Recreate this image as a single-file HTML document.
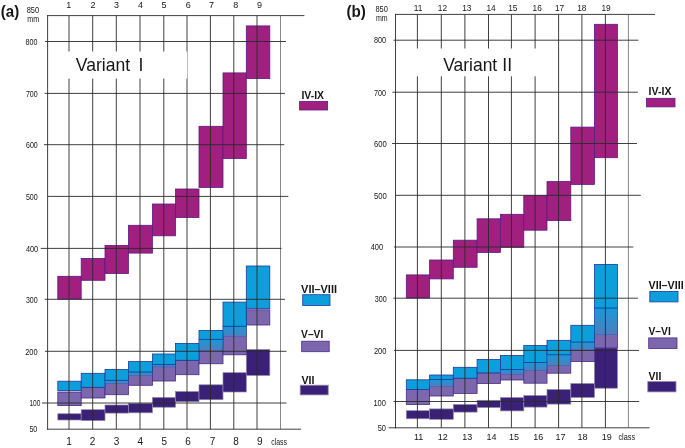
<!DOCTYPE html>
<html><head><meta charset="utf-8"><title>Variants</title>
<style>
html,body{margin:0;padding:0;background:#fff;}
svg{display:block;font-family:"Liberation Sans",sans-serif;fill:#1a1a1a;}
svg text{fill:#161616;}
</style></head><body>
<svg width="685" height="448" viewBox="0 0 685 448">
<defs><linearGradient id="bl" x1="0" y1="0" x2="0" y2="1"><stop offset="0" stop-color="#0d9fdb" stop-opacity="0.9"/><stop offset="1" stop-color="#0d9fdb" stop-opacity="0.4"/></linearGradient></defs>
<rect width="685" height="448" fill="#fff"/>
<rect x="57.80" y="276.30" width="23.40" height="22.80" fill="#a1207f" stroke="#5b1b86" stroke-width="0.8"/>
<rect x="81.20" y="258.40" width="23.80" height="21.90" fill="#a1207f" stroke="#5b1b86" stroke-width="0.8"/>
<rect x="105.00" y="245.40" width="23.40" height="28.10" fill="#a1207f" stroke="#5b1b86" stroke-width="0.8"/>
<rect x="128.40" y="225.30" width="24.00" height="27.80" fill="#a1207f" stroke="#5b1b86" stroke-width="0.8"/>
<rect x="152.40" y="204.00" width="23.10" height="31.80" fill="#a1207f" stroke="#5b1b86" stroke-width="0.8"/>
<rect x="175.50" y="189.00" width="23.50" height="28.50" fill="#a1207f" stroke="#5b1b86" stroke-width="0.8"/>
<rect x="199.00" y="126.30" width="24.00" height="61.10" fill="#a1207f" stroke="#5b1b86" stroke-width="0.8"/>
<rect x="223.00" y="72.90" width="23.30" height="85.60" fill="#a1207f" stroke="#5b1b86" stroke-width="0.8"/>
<rect x="246.30" y="25.90" width="23.50" height="52.70" fill="#a1207f" stroke="#5b1b86" stroke-width="0.8"/>
<rect x="57.80" y="413.75" width="23.40" height="6.25" fill="#3a2077" stroke="#8f88aa" stroke-width="0.7"/>
<rect x="81.20" y="409.70" width="23.80" height="10.90" fill="#3a2077" stroke="#8f88aa" stroke-width="0.7"/>
<rect x="105.00" y="405.00" width="23.40" height="8.10" fill="#3a2077" stroke="#8f88aa" stroke-width="0.7"/>
<rect x="128.40" y="403.50" width="24.00" height="9.30" fill="#3a2077" stroke="#8f88aa" stroke-width="0.7"/>
<rect x="152.40" y="397.50" width="23.10" height="9.70" fill="#3a2077" stroke="#8f88aa" stroke-width="0.7"/>
<rect x="175.50" y="391.60" width="23.50" height="10.10" fill="#3a2077" stroke="#8f88aa" stroke-width="0.7"/>
<rect x="199.00" y="384.80" width="24.00" height="14.90" fill="#3a2077" stroke="#8f88aa" stroke-width="0.7"/>
<rect x="223.00" y="372.70" width="23.30" height="19.30" fill="#3a2077" stroke="#8f88aa" stroke-width="0.7"/>
<rect x="246.30" y="349.50" width="23.50" height="25.90" fill="#3a2077" stroke="#8f88aa" stroke-width="0.7"/>
<rect x="57.80" y="392.00" width="23.40" height="13.60" fill="#7c67ad" stroke="#4a2a8c" stroke-width="0.8"/>
<rect x="81.20" y="387.30" width="23.80" height="10.70" fill="#7c67ad" stroke="#4a2a8c" stroke-width="0.8"/>
<rect x="105.00" y="380.30" width="23.40" height="14.40" fill="#7c67ad" stroke="#4a2a8c" stroke-width="0.8"/>
<rect x="128.40" y="372.00" width="24.00" height="13.30" fill="#7c67ad" stroke="#4a2a8c" stroke-width="0.8"/>
<rect x="152.40" y="364.50" width="23.10" height="16.50" fill="#7c67ad" stroke="#4a2a8c" stroke-width="0.8"/>
<rect x="175.50" y="360.30" width="23.50" height="14.40" fill="#7c67ad" stroke="#4a2a8c" stroke-width="0.8"/>
<rect x="199.00" y="339.30" width="24.00" height="24.45" fill="#7c67ad" stroke="#4a2a8c" stroke-width="0.8"/>
<rect x="223.00" y="326.25" width="23.30" height="28.55" fill="#7c67ad" stroke="#4a2a8c" stroke-width="0.8"/>
<rect x="246.30" y="309.80" width="23.50" height="15.20" fill="#7c67ad" stroke="#4a2a8c" stroke-width="0.8"/>
<rect x="57.80" y="381.20" width="23.40" height="9.40" fill="#0d9fdb" stroke="#1f3a9c" stroke-width="0.8"/>
<rect x="81.20" y="373.30" width="23.80" height="14.00" fill="#0d9fdb" stroke="#1f3a9c" stroke-width="0.8"/>
<rect x="105.00" y="380.30" width="23.40" height="3.45" fill="url(#bl)" stroke="#1f3a9c" stroke-width="0.4" stroke-opacity="0.6"/>
<rect x="105.00" y="369.40" width="23.40" height="10.90" fill="#0d9fdb" stroke="#1f3a9c" stroke-width="0.8"/>
<rect x="128.40" y="372.00" width="24.00" height="3.60" fill="url(#bl)" stroke="#1f3a9c" stroke-width="0.4" stroke-opacity="0.6"/>
<rect x="128.40" y="361.60" width="24.00" height="10.40" fill="#0d9fdb" stroke="#1f3a9c" stroke-width="0.8"/>
<rect x="152.40" y="364.50" width="23.10" height="2.40" fill="url(#bl)" stroke="#1f3a9c" stroke-width="0.4" stroke-opacity="0.6"/>
<rect x="152.40" y="354.00" width="23.10" height="10.50" fill="#0d9fdb" stroke="#1f3a9c" stroke-width="0.8"/>
<rect x="175.50" y="343.40" width="23.50" height="16.90" fill="#0d9fdb" stroke="#1f3a9c" stroke-width="0.8"/>
<rect x="199.00" y="339.30" width="24.00" height="11.10" fill="url(#bl)" stroke="#1f3a9c" stroke-width="0.4" stroke-opacity="0.6"/>
<rect x="199.00" y="330.40" width="24.00" height="8.90" fill="#0d9fdb" stroke="#1f3a9c" stroke-width="0.8"/>
<rect x="223.00" y="326.25" width="23.30" height="10.15" fill="url(#bl)" stroke="#1f3a9c" stroke-width="0.4" stroke-opacity="0.6"/>
<rect x="223.00" y="302.10" width="23.30" height="24.15" fill="#0d9fdb" stroke="#1f3a9c" stroke-width="0.8"/>
<rect x="246.30" y="266.00" width="23.50" height="42.60" fill="#0d9fdb" stroke="#1f3a9c" stroke-width="0.8"/>
<line x1="69.00" y1="15.6" x2="69.00" y2="429.2" stroke="#2a2a2a" stroke-width="0.9"/>
<line x1="92.70" y1="15.6" x2="92.70" y2="429.2" stroke="#2a2a2a" stroke-width="0.9"/>
<line x1="116.30" y1="15.6" x2="116.30" y2="429.2" stroke="#2a2a2a" stroke-width="0.9"/>
<line x1="140.00" y1="15.6" x2="140.00" y2="429.2" stroke="#2a2a2a" stroke-width="0.9"/>
<line x1="163.80" y1="15.6" x2="163.80" y2="429.2" stroke="#2a2a2a" stroke-width="0.9"/>
<line x1="187.00" y1="15.6" x2="187.00" y2="429.2" stroke="#2a2a2a" stroke-width="0.9"/>
<line x1="210.40" y1="15.6" x2="210.40" y2="429.2" stroke="#2a2a2a" stroke-width="0.9"/>
<line x1="233.80" y1="15.6" x2="233.80" y2="429.2" stroke="#2a2a2a" stroke-width="0.9"/>
<line x1="257.00" y1="15.6" x2="257.00" y2="429.2" stroke="#2a2a2a" stroke-width="0.9"/>
<line x1="280.50" y1="15.6" x2="280.50" y2="429.2" stroke="#7a7a7a" stroke-width="0.9"/>
<line x1="47.60" y1="15.1" x2="47.60" y2="429.7" stroke="#2a2a2a" stroke-width="0.9"/>
<line x1="47.2" y1="15.60" x2="304.4" y2="15.60" stroke="#2a2a2a" stroke-width="0.9"/>
<line x1="45.0" y1="41.50" x2="286.0" y2="41.50" stroke="#2a2a2a" stroke-width="0.9"/>
<line x1="44.7" y1="93.40" x2="285.0" y2="93.40" stroke="#2a2a2a" stroke-width="0.9"/>
<line x1="44.0" y1="144.70" x2="284.3" y2="144.70" stroke="#2a2a2a" stroke-width="0.9"/>
<line x1="47.7" y1="196.40" x2="288.3" y2="196.40" stroke="#2a2a2a" stroke-width="0.9"/>
<line x1="40.7" y1="248.40" x2="281.5" y2="248.40" stroke="#2a2a2a" stroke-width="0.9"/>
<line x1="44.7" y1="299.30" x2="285.0" y2="299.30" stroke="#2a2a2a" stroke-width="0.9"/>
<line x1="45.0" y1="351.30" x2="286.5" y2="351.30" stroke="#2a2a2a" stroke-width="0.9"/>
<line x1="42.0" y1="403.00" x2="286.5" y2="403.00" stroke="#2a2a2a" stroke-width="0.9"/>
<line x1="47.0" y1="429.20" x2="301.0" y2="429.20" stroke="#2a2a2a" stroke-width="0.9"/>
<rect x="60" y="51.5" width="127.3" height="27.1" fill="#fff"/>
<rect x="406.30" y="274.90" width="23.30" height="23.10" fill="#a1207f" stroke="#5b1b86" stroke-width="0.8"/>
<rect x="429.60" y="260.00" width="23.70" height="18.90" fill="#a1207f" stroke="#5b1b86" stroke-width="0.8"/>
<rect x="453.30" y="240.20" width="23.80" height="27.10" fill="#a1207f" stroke="#5b1b86" stroke-width="0.8"/>
<rect x="477.10" y="218.80" width="23.30" height="33.60" fill="#a1207f" stroke="#5b1b86" stroke-width="0.8"/>
<rect x="500.40" y="214.30" width="23.40" height="33.00" fill="#a1207f" stroke="#5b1b86" stroke-width="0.8"/>
<rect x="523.80" y="195.70" width="23.20" height="34.50" fill="#a1207f" stroke="#5b1b86" stroke-width="0.8"/>
<rect x="547.00" y="181.60" width="23.80" height="39.00" fill="#a1207f" stroke="#5b1b86" stroke-width="0.8"/>
<rect x="570.80" y="127.10" width="23.60" height="57.30" fill="#a1207f" stroke="#5b1b86" stroke-width="0.8"/>
<rect x="594.40" y="24.30" width="23.00" height="133.40" fill="#a1207f" stroke="#5b1b86" stroke-width="0.8"/>
<rect x="406.30" y="410.70" width="23.30" height="8.05" fill="#3a2077" stroke="#8f88aa" stroke-width="0.7"/>
<rect x="429.60" y="408.90" width="23.70" height="10.40" fill="#3a2077" stroke="#8f88aa" stroke-width="0.7"/>
<rect x="453.30" y="404.50" width="23.80" height="7.60" fill="#3a2077" stroke="#8f88aa" stroke-width="0.7"/>
<rect x="477.10" y="400.30" width="23.30" height="7.20" fill="#3a2077" stroke="#8f88aa" stroke-width="0.7"/>
<rect x="500.40" y="397.60" width="23.40" height="13.30" fill="#3a2077" stroke="#8f88aa" stroke-width="0.7"/>
<rect x="523.80" y="395.60" width="23.20" height="11.50" fill="#3a2077" stroke="#8f88aa" stroke-width="0.7"/>
<rect x="547.00" y="389.60" width="23.80" height="14.50" fill="#3a2077" stroke="#8f88aa" stroke-width="0.7"/>
<rect x="570.80" y="383.60" width="23.60" height="13.80" fill="#3a2077" stroke="#8f88aa" stroke-width="0.7"/>
<rect x="594.40" y="347.90" width="23.00" height="40.30" fill="#3a2077" stroke="#8f88aa" stroke-width="0.7"/>
<rect x="406.30" y="389.60" width="23.30" height="14.90" fill="#7c67ad" stroke="#4a2a8c" stroke-width="0.8"/>
<rect x="429.60" y="379.50" width="23.70" height="16.50" fill="#7c67ad" stroke="#4a2a8c" stroke-width="0.8"/>
<rect x="453.30" y="378.20" width="23.80" height="15.20" fill="#7c67ad" stroke="#4a2a8c" stroke-width="0.8"/>
<rect x="477.10" y="372.90" width="23.30" height="10.60" fill="#7c67ad" stroke="#4a2a8c" stroke-width="0.8"/>
<rect x="500.40" y="369.60" width="23.40" height="10.40" fill="#7c67ad" stroke="#4a2a8c" stroke-width="0.8"/>
<rect x="523.80" y="362.50" width="23.20" height="20.70" fill="#7c67ad" stroke="#4a2a8c" stroke-width="0.8"/>
<rect x="547.00" y="354.80" width="23.80" height="18.40" fill="#7c67ad" stroke="#4a2a8c" stroke-width="0.8"/>
<rect x="570.80" y="342.00" width="23.60" height="19.60" fill="#7c67ad" stroke="#4a2a8c" stroke-width="0.8"/>
<rect x="594.40" y="308.00" width="23.00" height="39.90" fill="#7c67ad" stroke="#4a2a8c" stroke-width="0.8"/>
<rect x="406.30" y="379.80" width="23.30" height="9.80" fill="#0d9fdb" stroke="#1f3a9c" stroke-width="0.8"/>
<rect x="429.60" y="379.50" width="23.70" height="7.10" fill="url(#bl)" stroke="#1f3a9c" stroke-width="0.4" stroke-opacity="0.6"/>
<rect x="429.60" y="375.00" width="23.70" height="4.50" fill="#0d9fdb" stroke="#1f3a9c" stroke-width="0.8"/>
<rect x="453.30" y="367.30" width="23.80" height="10.90" fill="#0d9fdb" stroke="#1f3a9c" stroke-width="0.8"/>
<rect x="477.10" y="359.40" width="23.30" height="13.50" fill="#0d9fdb" stroke="#1f3a9c" stroke-width="0.8"/>
<rect x="500.40" y="369.60" width="23.40" height="4.70" fill="url(#bl)" stroke="#1f3a9c" stroke-width="0.4" stroke-opacity="0.6"/>
<rect x="500.40" y="355.40" width="23.40" height="14.20" fill="#0d9fdb" stroke="#1f3a9c" stroke-width="0.8"/>
<rect x="523.80" y="362.50" width="23.20" height="8.20" fill="url(#bl)" stroke="#1f3a9c" stroke-width="0.4" stroke-opacity="0.6"/>
<rect x="523.80" y="345.50" width="23.20" height="17.00" fill="#0d9fdb" stroke="#1f3a9c" stroke-width="0.8"/>
<rect x="547.00" y="354.80" width="23.80" height="11.00" fill="url(#bl)" stroke="#1f3a9c" stroke-width="0.4" stroke-opacity="0.6"/>
<rect x="547.00" y="340.30" width="23.80" height="14.50" fill="#0d9fdb" stroke="#1f3a9c" stroke-width="0.8"/>
<rect x="570.80" y="342.00" width="23.60" height="8.00" fill="url(#bl)" stroke="#1f3a9c" stroke-width="0.4" stroke-opacity="0.6"/>
<rect x="570.80" y="325.30" width="23.60" height="16.70" fill="#0d9fdb" stroke="#1f3a9c" stroke-width="0.8"/>
<rect x="594.40" y="308.00" width="23.00" height="26.80" fill="url(#bl)" stroke="#1f3a9c" stroke-width="0.4" stroke-opacity="0.6"/>
<rect x="594.40" y="264.40" width="23.00" height="43.60" fill="#0d9fdb" stroke="#1f3a9c" stroke-width="0.8"/>
<line x1="417.40" y1="14.4" x2="417.40" y2="427.8" stroke="#2a2a2a" stroke-width="0.9"/>
<line x1="441.30" y1="14.4" x2="441.30" y2="427.8" stroke="#2a2a2a" stroke-width="0.9"/>
<line x1="464.90" y1="14.4" x2="464.90" y2="427.8" stroke="#2a2a2a" stroke-width="0.9"/>
<line x1="488.50" y1="14.4" x2="488.50" y2="427.8" stroke="#2a2a2a" stroke-width="0.9"/>
<line x1="511.40" y1="14.4" x2="511.40" y2="427.8" stroke="#2a2a2a" stroke-width="0.9"/>
<line x1="535.10" y1="14.4" x2="535.10" y2="427.8" stroke="#2a2a2a" stroke-width="0.9"/>
<line x1="558.60" y1="14.4" x2="558.60" y2="427.8" stroke="#2a2a2a" stroke-width="0.9"/>
<line x1="581.90" y1="14.4" x2="581.90" y2="427.8" stroke="#2a2a2a" stroke-width="0.9"/>
<line x1="605.40" y1="14.4" x2="605.40" y2="427.8" stroke="#2a2a2a" stroke-width="0.9"/>
<line x1="628.40" y1="14.4" x2="628.40" y2="427.8" stroke="#7a7a7a" stroke-width="0.9"/>
<line x1="395.50" y1="13.9" x2="395.50" y2="428.3" stroke="#2a2a2a" stroke-width="0.9"/>
<line x1="395.0" y1="14.40" x2="655.0" y2="14.40" stroke="#2a2a2a" stroke-width="0.9"/>
<line x1="393.5" y1="40.20" x2="638.4" y2="40.20" stroke="#2a2a2a" stroke-width="0.9"/>
<line x1="392.3" y1="92.20" x2="637.8" y2="92.20" stroke="#2a2a2a" stroke-width="0.9"/>
<line x1="392.0" y1="143.50" x2="637.0" y2="143.50" stroke="#2a2a2a" stroke-width="0.9"/>
<line x1="395.3" y1="195.30" x2="640.8" y2="195.30" stroke="#2a2a2a" stroke-width="0.9"/>
<line x1="394.0" y1="247.00" x2="633.3" y2="247.00" stroke="#2a2a2a" stroke-width="0.9"/>
<line x1="393.3" y1="298.20" x2="637.9" y2="298.20" stroke="#2a2a2a" stroke-width="0.9"/>
<line x1="394.0" y1="350.40" x2="639.0" y2="350.40" stroke="#2a2a2a" stroke-width="0.9"/>
<line x1="393.5" y1="401.50" x2="639.2" y2="401.50" stroke="#2a2a2a" stroke-width="0.9"/>
<line x1="388.5" y1="427.80" x2="649.5" y2="427.80" stroke="#2a2a2a" stroke-width="0.9"/>
<rect x="397" y="48.5" width="150.0" height="27.8" fill="#fff"/>
<text x="0.8" y="17.2" font-size="16" text-anchor="start" font-weight="bold" textLength="18.4" lengthAdjust="spacingAndGlyphs">(a)</text>
<text x="346.4" y="17.3" font-size="16" text-anchor="start" font-weight="bold" textLength="19.4" lengthAdjust="spacingAndGlyphs">(b)</text>
<text x="26.7" y="13.4" font-size="8.2" text-anchor="start" font-weight="normal" textLength="12.4" lengthAdjust="spacingAndGlyphs">850</text>
<text x="25.5" y="45.0" font-size="8.2" text-anchor="start" font-weight="normal" textLength="11.9" lengthAdjust="spacingAndGlyphs">800</text>
<text x="25.9" y="96.9" font-size="8.2" text-anchor="start" font-weight="normal" textLength="11.8" lengthAdjust="spacingAndGlyphs">700</text>
<text x="26.0" y="148.1" font-size="8.2" text-anchor="start" font-weight="normal" textLength="11.8" lengthAdjust="spacingAndGlyphs">600</text>
<text x="25.9" y="199.8" font-size="8.2" text-anchor="start" font-weight="normal" textLength="11.9" lengthAdjust="spacingAndGlyphs">500</text>
<text x="25.9" y="251.8" font-size="8.2" text-anchor="start" font-weight="normal" textLength="12.3" lengthAdjust="spacingAndGlyphs">400</text>
<text x="25.9" y="302.7" font-size="8.2" text-anchor="start" font-weight="normal" textLength="11.8" lengthAdjust="spacingAndGlyphs">300</text>
<text x="25.2" y="354.7" font-size="8.2" text-anchor="start" font-weight="normal" textLength="12.5" lengthAdjust="spacingAndGlyphs">200</text>
<text x="29.4" y="406.4" font-size="8.2" text-anchor="start" font-weight="normal" textLength="11.0" lengthAdjust="spacingAndGlyphs">100</text>
<text x="29.4" y="432.3" font-size="8.2" text-anchor="start" font-weight="normal" textLength="7.9" lengthAdjust="spacingAndGlyphs">50</text>
<text x="27.2" y="22.3" font-size="8.4" text-anchor="start" font-weight="normal" textLength="11.9" lengthAdjust="spacingAndGlyphs">mm</text>
<text x="375.4" y="12.1" font-size="8.2" text-anchor="start" font-weight="normal" textLength="12.5" lengthAdjust="spacingAndGlyphs">850</text>
<text x="373.9" y="43.3" font-size="8.2" text-anchor="start" font-weight="normal" textLength="12.1" lengthAdjust="spacingAndGlyphs">800</text>
<text x="373.9" y="96.0" font-size="8.2" text-anchor="start" font-weight="normal" textLength="12.1" lengthAdjust="spacingAndGlyphs">700</text>
<text x="373.9" y="147.0" font-size="8.2" text-anchor="start" font-weight="normal" textLength="12.8" lengthAdjust="spacingAndGlyphs">600</text>
<text x="373.9" y="198.8" font-size="8.2" text-anchor="start" font-weight="normal" textLength="12.8" lengthAdjust="spacingAndGlyphs">500</text>
<text x="370.7" y="250.4" font-size="8.2" text-anchor="start" font-weight="normal" textLength="12.5" lengthAdjust="spacingAndGlyphs">400</text>
<text x="374.7" y="301.6" font-size="8.2" text-anchor="start" font-weight="normal" textLength="12.0" lengthAdjust="spacingAndGlyphs">300</text>
<text x="373.9" y="353.7" font-size="8.2" text-anchor="start" font-weight="normal" textLength="12.6" lengthAdjust="spacingAndGlyphs">200</text>
<text x="373.4" y="405.6" font-size="8.2" text-anchor="start" font-weight="normal" textLength="12.6" lengthAdjust="spacingAndGlyphs">100</text>
<text x="377.7" y="431.1" font-size="8.2" text-anchor="start" font-weight="normal" textLength="8.3" lengthAdjust="spacingAndGlyphs">50</text>
<text x="375.9" y="20.9" font-size="8.4" text-anchor="start" font-weight="normal" textLength="11.7" lengthAdjust="spacingAndGlyphs">mm</text>
<text x="68.8" y="7.6" font-size="9.0" text-anchor="middle" font-weight="normal">1</text>
<text x="93.0" y="7.6" font-size="9.0" text-anchor="middle" font-weight="normal">2</text>
<text x="116.6" y="7.6" font-size="9.0" text-anchor="middle" font-weight="normal">3</text>
<text x="140.6" y="7.6" font-size="9.0" text-anchor="middle" font-weight="normal">4</text>
<text x="164.1" y="7.6" font-size="9.0" text-anchor="middle" font-weight="normal">5</text>
<text x="188.3" y="7.6" font-size="9.0" text-anchor="middle" font-weight="normal">6</text>
<text x="211.6" y="7.6" font-size="9.0" text-anchor="middle" font-weight="normal">7</text>
<text x="235.8" y="7.6" font-size="9.0" text-anchor="middle" font-weight="normal">8</text>
<text x="259.6" y="7.6" font-size="9.0" text-anchor="middle" font-weight="normal">9</text>
<text x="418.1" y="11.4" font-size="8.3" text-anchor="middle" font-weight="normal">11</text>
<text x="442.4" y="11.4" font-size="8.3" text-anchor="middle" font-weight="normal">12</text>
<text x="466.8" y="11.4" font-size="8.3" text-anchor="middle" font-weight="normal">13</text>
<text x="491.1" y="11.4" font-size="8.3" text-anchor="middle" font-weight="normal">14</text>
<text x="512.8" y="11.4" font-size="8.3" text-anchor="middle" font-weight="normal">15</text>
<text x="537.2" y="11.4" font-size="8.3" text-anchor="middle" font-weight="normal">16</text>
<text x="559.6" y="11.4" font-size="8.3" text-anchor="middle" font-weight="normal">17</text>
<text x="581.8" y="11.4" font-size="8.3" text-anchor="middle" font-weight="normal">18</text>
<text x="606.1" y="11.4" font-size="8.3" text-anchor="middle" font-weight="normal">19</text>
<text x="69.0" y="445.3" font-size="10.0" text-anchor="middle" font-weight="normal">1</text>
<text x="92.6" y="445.3" font-size="10.0" text-anchor="middle" font-weight="normal">2</text>
<text x="116.5" y="445.3" font-size="10.0" text-anchor="middle" font-weight="normal">3</text>
<text x="140.3" y="445.3" font-size="10.0" text-anchor="middle" font-weight="normal">4</text>
<text x="164.2" y="445.3" font-size="10.0" text-anchor="middle" font-weight="normal">5</text>
<text x="188.0" y="445.3" font-size="10.0" text-anchor="middle" font-weight="normal">6</text>
<text x="212.5" y="445.3" font-size="10.0" text-anchor="middle" font-weight="normal">7</text>
<text x="236.0" y="445.3" font-size="10.0" text-anchor="middle" font-weight="normal">8</text>
<text x="259.7" y="445.3" font-size="10.0" text-anchor="middle" font-weight="normal">9</text>
<text x="418.6" y="440.3" font-size="9.0" text-anchor="middle" font-weight="normal">11</text>
<text x="442.7" y="440.3" font-size="9.0" text-anchor="middle" font-weight="normal">12</text>
<text x="467.2" y="440.3" font-size="9.0" text-anchor="middle" font-weight="normal">13</text>
<text x="491.4" y="440.3" font-size="9.0" text-anchor="middle" font-weight="normal">14</text>
<text x="513.9" y="440.3" font-size="9.0" text-anchor="middle" font-weight="normal">15</text>
<text x="538.2" y="440.3" font-size="9.0" text-anchor="middle" font-weight="normal">16</text>
<text x="560.4" y="440.3" font-size="9.0" text-anchor="middle" font-weight="normal">17</text>
<text x="582.4" y="440.3" font-size="9.0" text-anchor="middle" font-weight="normal">18</text>
<text x="606.8" y="440.3" font-size="9.0" text-anchor="middle" font-weight="normal">19</text>
<text x="271.2" y="445.0" font-size="8.6" text-anchor="start" font-weight="normal" textLength="15.8" lengthAdjust="spacingAndGlyphs">class</text>
<text x="618.4" y="440.2" font-size="8.6" text-anchor="start" font-weight="normal" textLength="16.7" lengthAdjust="spacingAndGlyphs">class</text>
<text y="70.6" font-size="17.7"><tspan x="75.8" textLength="54.3" lengthAdjust="spacingAndGlyphs">Variant</tspan><tspan x="138.6">I</tspan></text>
<text y="71.3" font-size="17.7"><tspan x="443.2" textLength="54.0" lengthAdjust="spacingAndGlyphs">Variant</tspan><tspan x="502.3">II</tspan></text>
<text x="301.4" y="98.6" font-size="10.3" text-anchor="start" font-weight="bold" textLength="22.6" lengthAdjust="spacingAndGlyphs">IV-IX</text>
<rect x="299.60" y="101.50" width="28.00" height="8.50" fill="#a1207f" stroke="#5b1b86" stroke-width="0.8"/>
<text x="301.1" y="292.5" font-size="10.3" text-anchor="start" font-weight="bold" textLength="35.9" lengthAdjust="spacingAndGlyphs">VII–VIII</text>
<rect x="302.70" y="294.70" width="27.30" height="10.80" fill="#0d9fdb" stroke="#1f3a9c" stroke-width="0.8"/>
<text x="301.1" y="338.4" font-size="10.3" text-anchor="start" font-weight="bold" textLength="22.2" lengthAdjust="spacingAndGlyphs">V–VI</text>
<rect x="301.70" y="341.20" width="27.50" height="10.50" fill="#7c67ad" stroke="#4a2a8c" stroke-width="0.8"/>
<text x="301.4" y="383.8" font-size="10.3" text-anchor="start" font-weight="bold" textLength="13.1" lengthAdjust="spacingAndGlyphs">VII</text>
<rect x="300.20" y="385.20" width="28.00" height="9.70" fill="#3a2077" stroke="#8f88aa" stroke-width="0.8"/>
<text x="648.6" y="95.4" font-size="10.3" text-anchor="start" font-weight="bold" textLength="23.0" lengthAdjust="spacingAndGlyphs">IV-IX</text>
<rect x="646.40" y="98.30" width="28.60" height="8.60" fill="#a1207f" stroke="#5b1b86" stroke-width="0.8"/>
<text x="648.5" y="289.0" font-size="10.3" text-anchor="start" font-weight="bold" textLength="35.2" lengthAdjust="spacingAndGlyphs">VII–VIII</text>
<rect x="649.80" y="291.40" width="28.20" height="10.50" fill="#0d9fdb" stroke="#1f3a9c" stroke-width="0.8"/>
<text x="648.5" y="334.8" font-size="10.3" text-anchor="start" font-weight="bold" textLength="22.3" lengthAdjust="spacingAndGlyphs">V–VI</text>
<rect x="648.70" y="337.90" width="28.30" height="10.60" fill="#7c67ad" stroke="#4a2a8c" stroke-width="0.8"/>
<text x="648.6" y="380.0" font-size="10.3" text-anchor="start" font-weight="bold" textLength="12.8" lengthAdjust="spacingAndGlyphs">VII</text>
<rect x="647.80" y="381.60" width="28.20" height="10.30" fill="#3a2077" stroke="#8f88aa" stroke-width="0.8"/>
</svg>
</body></html>
